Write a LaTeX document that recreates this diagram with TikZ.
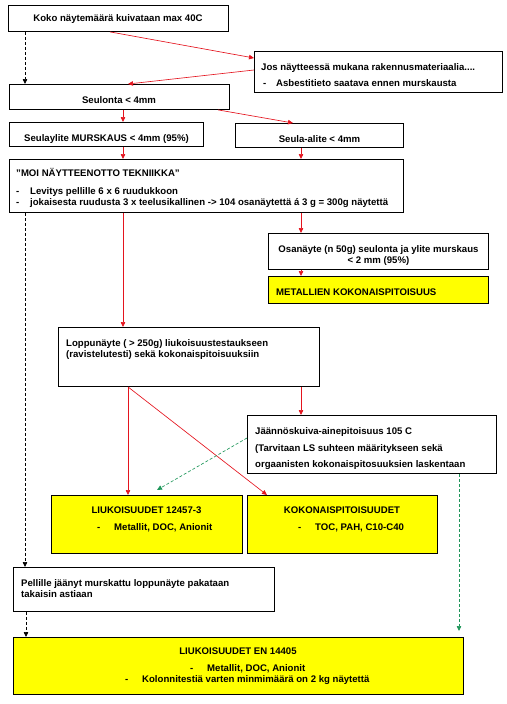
\documentclass[tikz,border=0pt]{standalone}
\usepackage{fontspec}
\setmainfont{Liberation Sans}
\usetikzlibrary{arrows.meta}
\definecolor{arrred}{RGB}{228,20,30}
\definecolor{arrgreen}{RGB}{30,150,90}
\definecolor{boxyellow}{RGB}{255,255,0}
\tikzset{
  box/.style={draw=black, line width=0.9pt, fill=white, anchor=north west, inner sep=0pt},
  ybox/.style={box, fill=boxyellow},
  txt/.style={anchor=base west, inner sep=0pt, font=\fontsize{9.6}{11}\selectfont\bfseries},
  ctxt/.style={txt, anchor=base},
  redarrow/.style={draw=arrred, line width=0.65pt, -{Triangle[length=5pt,width=4.5pt]}},
  blackdash/.style={draw=black, line width=0.65pt, dash pattern=on 3pt off 2pt, -{Triangle[length=5pt,width=4.5pt]}},
  greendash/.style={draw=arrgreen, line width=0.65pt, dash pattern=on 3pt off 2pt, -{Triangle[length=5pt,width=4.5pt]}},
}
\begin{document}
\begin{tikzpicture}[x=1pt,y=-1pt]
\useasboundingbox (0,0) rectangle (506,704);
% boxes
\node[box, minimum width=220, minimum height=26] (b1) at (8,5) {};
\node[box, minimum width=248, minimum height=41] (b2) at (254,51) {};
\node[box, minimum width=220, minimum height=25] (b3) at (9,84) {};
\node[box, minimum width=194, minimum height=24] (b4) at (9,122) {};
\node[box, minimum width=168, minimum height=24] (b5) at (235,123) {};
\node[box, minimum width=394, minimum height=53] (b6) at (9,159) {};
\node[box, minimum width=220, minimum height=36] (b7) at (268,233) {};
\node[ybox, minimum width=220, minimum height=27] (b8) at (268,276) {};
\node[box, minimum width=261, minimum height=59] (b9) at (58,327) {};
\node[box, minimum width=249, minimum height=58] (b10) at (247,415) {};
\node[ybox, minimum width=191, minimum height=58] (b11) at (51,495) {};
\node[ybox, minimum width=190, minimum height=58] (b12) at (247,495) {};
\node[box, minimum width=261, minimum height=44] (b13) at (13,567) {};
\node[ybox, minimum width=450, minimum height=57] (b14) at (13,637) {};

% texts
\node[ctxt] (t1) at (118,21.5) {Koko näytemäärä kuivataan max 40C};
\node[txt] (t2a) at (261,70.5) {Jos näytteessä mukana rakennusmateriaalia....};
\node[txt] (t2b) at (263,86.5) {-};
\node[txt] (t2c) at (276,86.5) {Asbestitieto saatava ennen murskausta};
\node[ctxt] (t3) at (119,103) {Seulonta < 4mm};
\node[ctxt] (t4) at (106.5,141.5) {Seulaylite MURSKAUS < 4mm (95\%)};
\node[ctxt] (t5) at (319.5,142.5) {Seula-alite < 4mm};
\node[txt] (t6a) at (16,176.5) {”MOI NÄYTTEENOTTO TEKNIIKKA”};
\node[txt] (t6b) at (16,194.5) {-};
\node[txt] (t6c) at (30,194.5) {Levitys pellille 6 x 6 ruudukkoon};
\node[txt] (t6d) at (16,205.5) {-};
\node[txt] (t6e) at (30,205.5) {jokaisesta ruudusta 3 x teelusikallinen -> 104 osanäytettä á 3 g = 300g näytettä};
\node[ctxt] (t7a) at (378.5,252.5) {Osanäyte (n 50g) seulonta ja ylite murskaus};
\node[ctxt] (t7b) at (378.5,263.5) {< 2 mm (95\%)};
\node[txt] (t8) at (276,295.5) {METALLIEN KOKONAISPITOISUUS};
\node[txt] (t9a) at (66,346.5) {Loppunäyte ( > 250g) liukoisuustestaukseen};
\node[txt] (t9b) at (66,357.5) {(ravistelutesti) sekä kokonaispitoisuuksiin};
\node[txt] (t10a) at (255,434.5) {Jäännöskuiva-ainepitoisuus 105 C};
\node[txt] (t10b) at (255,451.5) {(Tarvitaan LS suhteen määritykseen sekä};
\node[txt] (t10c) at (255,467.5) {orgaanisten kokonaispitosuuksien laskentaan};
\node[ctxt] (t11a) at (146.5,513.5) {LIUKOISUUDET 12457-3};
\node[txt] (t11b) at (97,530.5) {-};
\node[txt] (t11c) at (114,530.5) {Metallit, DOC, Anionit};
\node[ctxt] (t12a) at (342,513.5) {KOKONAISPITOISUUDET};
\node[txt] (t12b) at (298,530.5) {-};
\node[txt] (t12c) at (315,530.5) {TOC, PAH, C10-C40};
\node[txt] (t13a) at (21,586.5) {Pellille jäänyt murskattu loppunäyte pakataan};
\node[txt] (t13b) at (21,597.5) {takaisin astiaan};
\node[ctxt] (t14a) at (238,654.5) {LIUKOISUUDET EN 14405};
\node[txt] (t14b) at (190,671.5) {-};
\node[txt] (t14c) at (207,671.5) {Metallit, DOC, Anionit};
\node[txt] (t14d) at (125,682.5) {-};
\node[txt] (t14e) at (142,682.5) {Kolonnitestiä varten minmimäärä on 2 kg näytettä};

% red connectors
\draw[redarrow] (b1.south west) ++(102,0) coordinate (c1) -- (b2.west |- 0,58) ;
\draw[redarrow] (b2.west |- 0,70) -- (128,84);
\draw[redarrow] (b3.south west) ++(114,0) -- (b4.north west -| 123,0);
\draw[redarrow] (b3.south west) ++(209,0) -- (293,123);
\draw[redarrow] (b4.south west) ++(114,0) -- (b6.north west -| 123,0);
\draw[redarrow] (b5.south west) ++(66,0) -- (b6.north west -| 301,0);
\draw[redarrow] (b6.south west) ++(114,0) -- (b9.north west -| 123,0);
\draw[redarrow] (b6.south west) ++(292,0) -- (b7.north west -| 301,0);
\draw[redarrow] (b7.south west) ++(33,0) -- (b8.north west -| 301,0);
\draw[redarrow] (b9.south west) ++(70,0) -- (b11.north west -| 128,0);
\draw[redarrow] (b9.south west) ++(70,0) -- (b12.north west -| 267,0);
\draw[redarrow] (b9.south west) ++(243,0) -- (b10.north west -| 301,0);

% black dashed connectors
\draw[blackdash] (b1.south west) ++(17,0) -- (b3.north west -| 25,0);
\draw[blackdash] (b6.south west) ++(16,0) -- (b13.north west -| 25,0);
\draw[blackdash] (b13.south west) ++(13,0) -- (b14.north west -| 26,0);

% green dashed connectors
\draw[greendash] (b10.west |- 0,438) -- (157,490);
\draw[greendash] (b10.south west) ++(212,0) -- (459,631);
\end{tikzpicture}
\end{document}
